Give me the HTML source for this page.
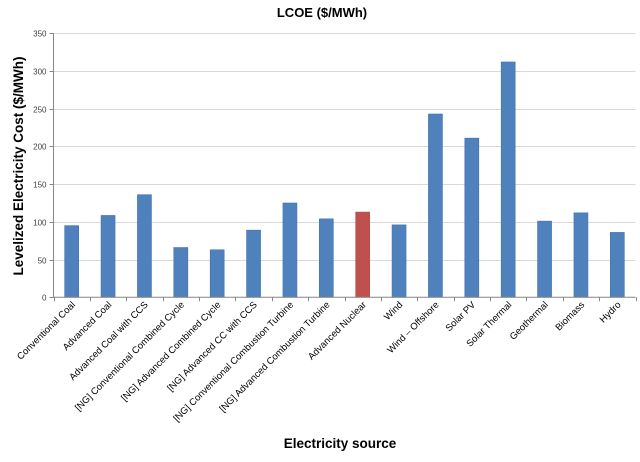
<!DOCTYPE html>
<html><head><meta charset="utf-8"><style>
html,body{margin:0;padding:0;background:#fff;}
svg{display:block;font-family:"Liberation Sans",sans-serif;}
</style></head><body>
<svg id="chart" width="640" height="462">
<text x="322" y="17" text-anchor="middle" font-size="13" font-weight="bold" fill="#000">LCOE ($/MWh)</text>
<text transform="translate(23,166) rotate(-90)" text-anchor="middle" font-size="13.5" font-weight="bold" fill="#000">Levelized Electricity Cost ($/MWh)</text>
<text x="340" y="448" text-anchor="middle" font-size="13.5" font-weight="bold" fill="#000">Electricity source</text>
<g id="grid"></g><g id="bars"></g><g id="axes"></g>
</svg>
<script>
const categories = ["Conventional Coal","Advanced Coal","Advanced Coal with CCS","[NG] Conventional Combined Cycle","[NG] Advanced Combined Cycle","[NG] Advanced CC with CCS","[NG] Conventional Combustion Turbine","[NG] Advanced Combustion Turbine","Advanced Nuclear","Wind","Wind – Offshore","Solar PV","Solar Thermal","Geothermal","Biomass","Hydro"];
const values = [95,108.5,136,66,63,89,125,104,113,96,243,211,312,101,112,86];
const highlighted = [false,false,false,false,false,false,false,false,true,false,false,false,false,false,false,false];
const yTicks = [0,50,100,150,200,250,300,350];

const NS="http://www.w3.org/2000/svg";
const x0=53.5,x1=635.5,yB=297.3,yT=33.3,yMax=350;
const band=(x1-x0)/categories.length;
const yScale=v=>yB-(v/yMax)*(yB-yT);
const xCenter=i=>x0+band*(i+0.5);
function mk(tag,attrs,parent){const e=document.createElementNS(NS,tag);for(const k in attrs)e.setAttribute(k,attrs[k]);parent.appendChild(e);return e;}
const grid=document.getElementById('grid'),bars=document.getElementById('bars'),axes=document.getElementById('axes');
yTicks.forEach(t=>{
  const y=Math.round(yScale(t))+0.5;
  if(t>0){const g=mk('line',{x1:x0,x2:x1,y1:y,y2:y,stroke:'#d9d9d9','stroke-width':1},grid);
  
  }
  const tk=mk('line',{x1:x0-4,x2:x0,y1:y,y2:y,stroke:'#868686'},axes);
  
  
  const lb=mk('text',{x:x0-7,y:y+3,'text-anchor':'end','font-size':8,fill:'#404040'},axes);
  lb.textContent=t;
  
  
});
values.forEach((v,i)=>{
  const w=14,cx=xCenter(i);
  const r=mk('rect',{x:cx-w/2,y:yScale(v),width:w,height:yB-yScale(v),fill:highlighted[i]?'#c0504d':'#4f81bd',stroke:highlighted[i]?'#b84b48':'#3f72b0','stroke-width':0.6},bars);
  
  
});
const ya=mk('line',{x1:x0,x2:x0,y1:yT,y2:yB,stroke:'#868686'},axes);


const xa=mk('line',{x1:x0,x2:x1,y1:yB,y2:yB,stroke:'#868686'},axes);


for(let i=0;i<=categories.length;i++){
  const x=Math.round(x0+band*i)+0.5;
  const tk=mk('line',{x1:x,x2:x,y1:yB,y2:yB+4,stroke:'#868686'},axes);
  
  
}
categories.forEach((c,i)=>{
  const cx=xCenter(i)+4,y=yB+8;
  const t=mk('text',{x:0,y:0,'text-anchor':'end','font-size':9.5,fill:'#000',transform:`translate(${cx},${y}) rotate(-45)`},axes);
  t.textContent=c;
  
  
});
</script>
</body></html>
